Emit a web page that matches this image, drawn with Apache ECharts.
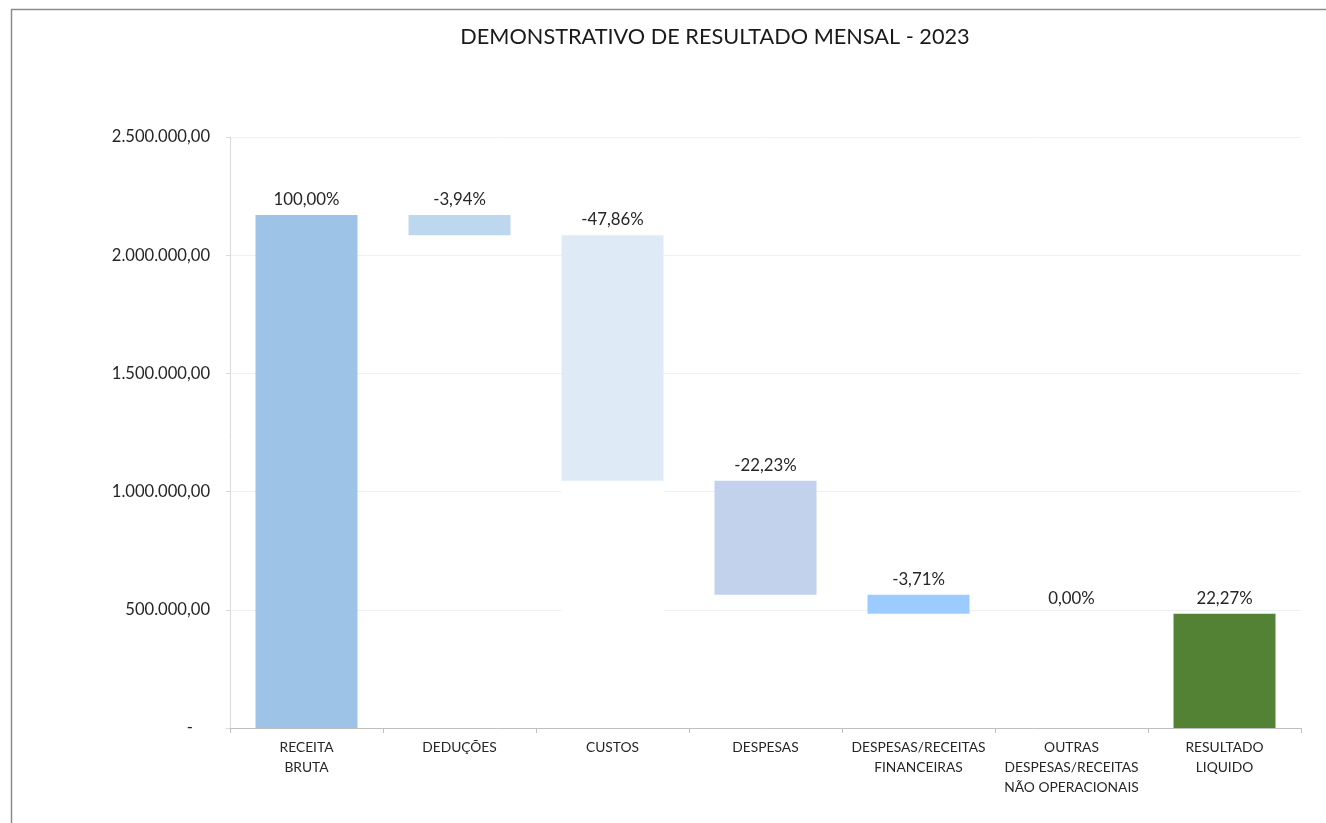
<!DOCTYPE html>
<html>
<head>
<meta charset="utf-8">
<script src="https://cdn.jsdelivr.net/npm/echarts@6/dist/echarts.min.js"></script>
<style>html,body{margin:0;padding:0;background:#fff;}#c{width:1326px;height:823px;}</style>
</head>
<body>
<div id="c"></div>
<script>
const categories = ['RECEITA\nBRUTA', 'DEDUÇÕES', 'CUSTOS', 'DESPESAS', 'DESPESAS/RECEITAS\nFINANCEIRAS', 'OUTRAS\nDESPESAS/RECEITAS\nNÃO OPERACIONAIS', 'RESULTADO\nLIQUIDO'];
const values = [2170000, -85500, -1038600, -482400, -80500, 0, 483000];
const isTotal = [true, false, false, false, false, false, true];
const percents = [100.00, -3.94, -47.86, -22.23, -3.71, 0.00, 22.27];
const colors = ['#9DC3E6', '#BDD7EE', '#DEEBF7', '#C3D2EC', '#9BCBFF', '#BDD7EE', '#548235'];
const yTicks = [0, 500000, 1000000, 1500000, 2000000, 2500000];

// running totals -> base (invisible) + visible segment
const base = [], seg = [];
let running = 0;
values.forEach((v, i) => {
  if (isTotal[i]) {
    base.push(0); seg.push(v); running = v;
  } else {
    const next = running + v;
    base.push(Math.min(running, next));
    seg.push(Math.abs(v));
    running = next;
  }
});

function fmtNum(n) {
  if (n === 0) return '-    ';
  const s = Math.round(n).toString().replace(/\B(?=(\d{3})+(?!\d))/g, '.');
  return s + ',00';
}
function fmtPct(p) {
  return p.toFixed(2).replace('.', ',') + '%';
}

const font = 'Lato, "Noto Sans", sans-serif';
const chart = echarts.init(document.getElementById('c'));
chart.setOption({
  animation: false,
  backgroundColor: '#ffffff',
  title: {
    text: 'DEMONSTRATIVO DE RESULTADO MENSAL - 2023',
    left: 710, top: 21, textAlign: 'center',
    textStyle: { fontFamily: font, fontSize: 21.7, fontWeight: 'normal', color: '#1a1a1a' }
  },
  graphic: [{
    type: 'rect', silent: true, z: -1,
    shape: { x: 11.5, y: 9.5, width: 1400, height: 900 },
    style: { fill: 'none', stroke: '#8C8C8C', lineWidth: 1.5 }
  }],
  grid: { left: 230, right: 25, top: 137, bottom: 95 },
  xAxis: {
    type: 'category',
    data: categories,
    axisLine: { lineStyle: { color: '#BFBFBF', width: 1 } },
    axisTick: { show: true, length: 5, lineStyle: { color: '#BFBFBF' } },
    axisLabel: { interval: 0, fontFamily: font, fontSize: 13.8, color: '#262626', lineHeight: 20, margin: 10 }
  },
  yAxis: {
    type: 'value',
    min: 0, max: 2500000, interval: 500000,
    axisLine: { show: true, lineStyle: { color: '#D9D9D9' } },
    axisTick: { show: true, length: 4, lineStyle: { color: '#D9D9D9' } },
    splitLine: { lineStyle: { color: '#F0F0F0', width: 1 } },
    axisLabel: { fontFamily: font, fontSize: 16.6, color: '#262626', margin: 20, formatter: v => fmtNum(v) }
  },
  series: [
    {
      name: 'base', type: 'bar', stack: 'w', barWidth: 102, silent: true,
      data: base.map((b, i) => ({ value: b, itemStyle: { color: i === 2 ? '#ffffff' : 'rgba(0,0,0,0)' } })),
      z: 3
    },
    {
      name: 'valor', type: 'bar', stack: 'w', barWidth: 102,
      data: seg.map((s, i) => ({ value: s, itemStyle: { color: colors[i] } })),
      label: {
        show: true, position: 'top', distance: 7,
        fontFamily: font, fontSize: 16.8, color: '#262626',
        formatter: p => fmtPct(percents[p.dataIndex])
      },
      z: 3
    }
  ]
});
</script>
</body>
</html>
